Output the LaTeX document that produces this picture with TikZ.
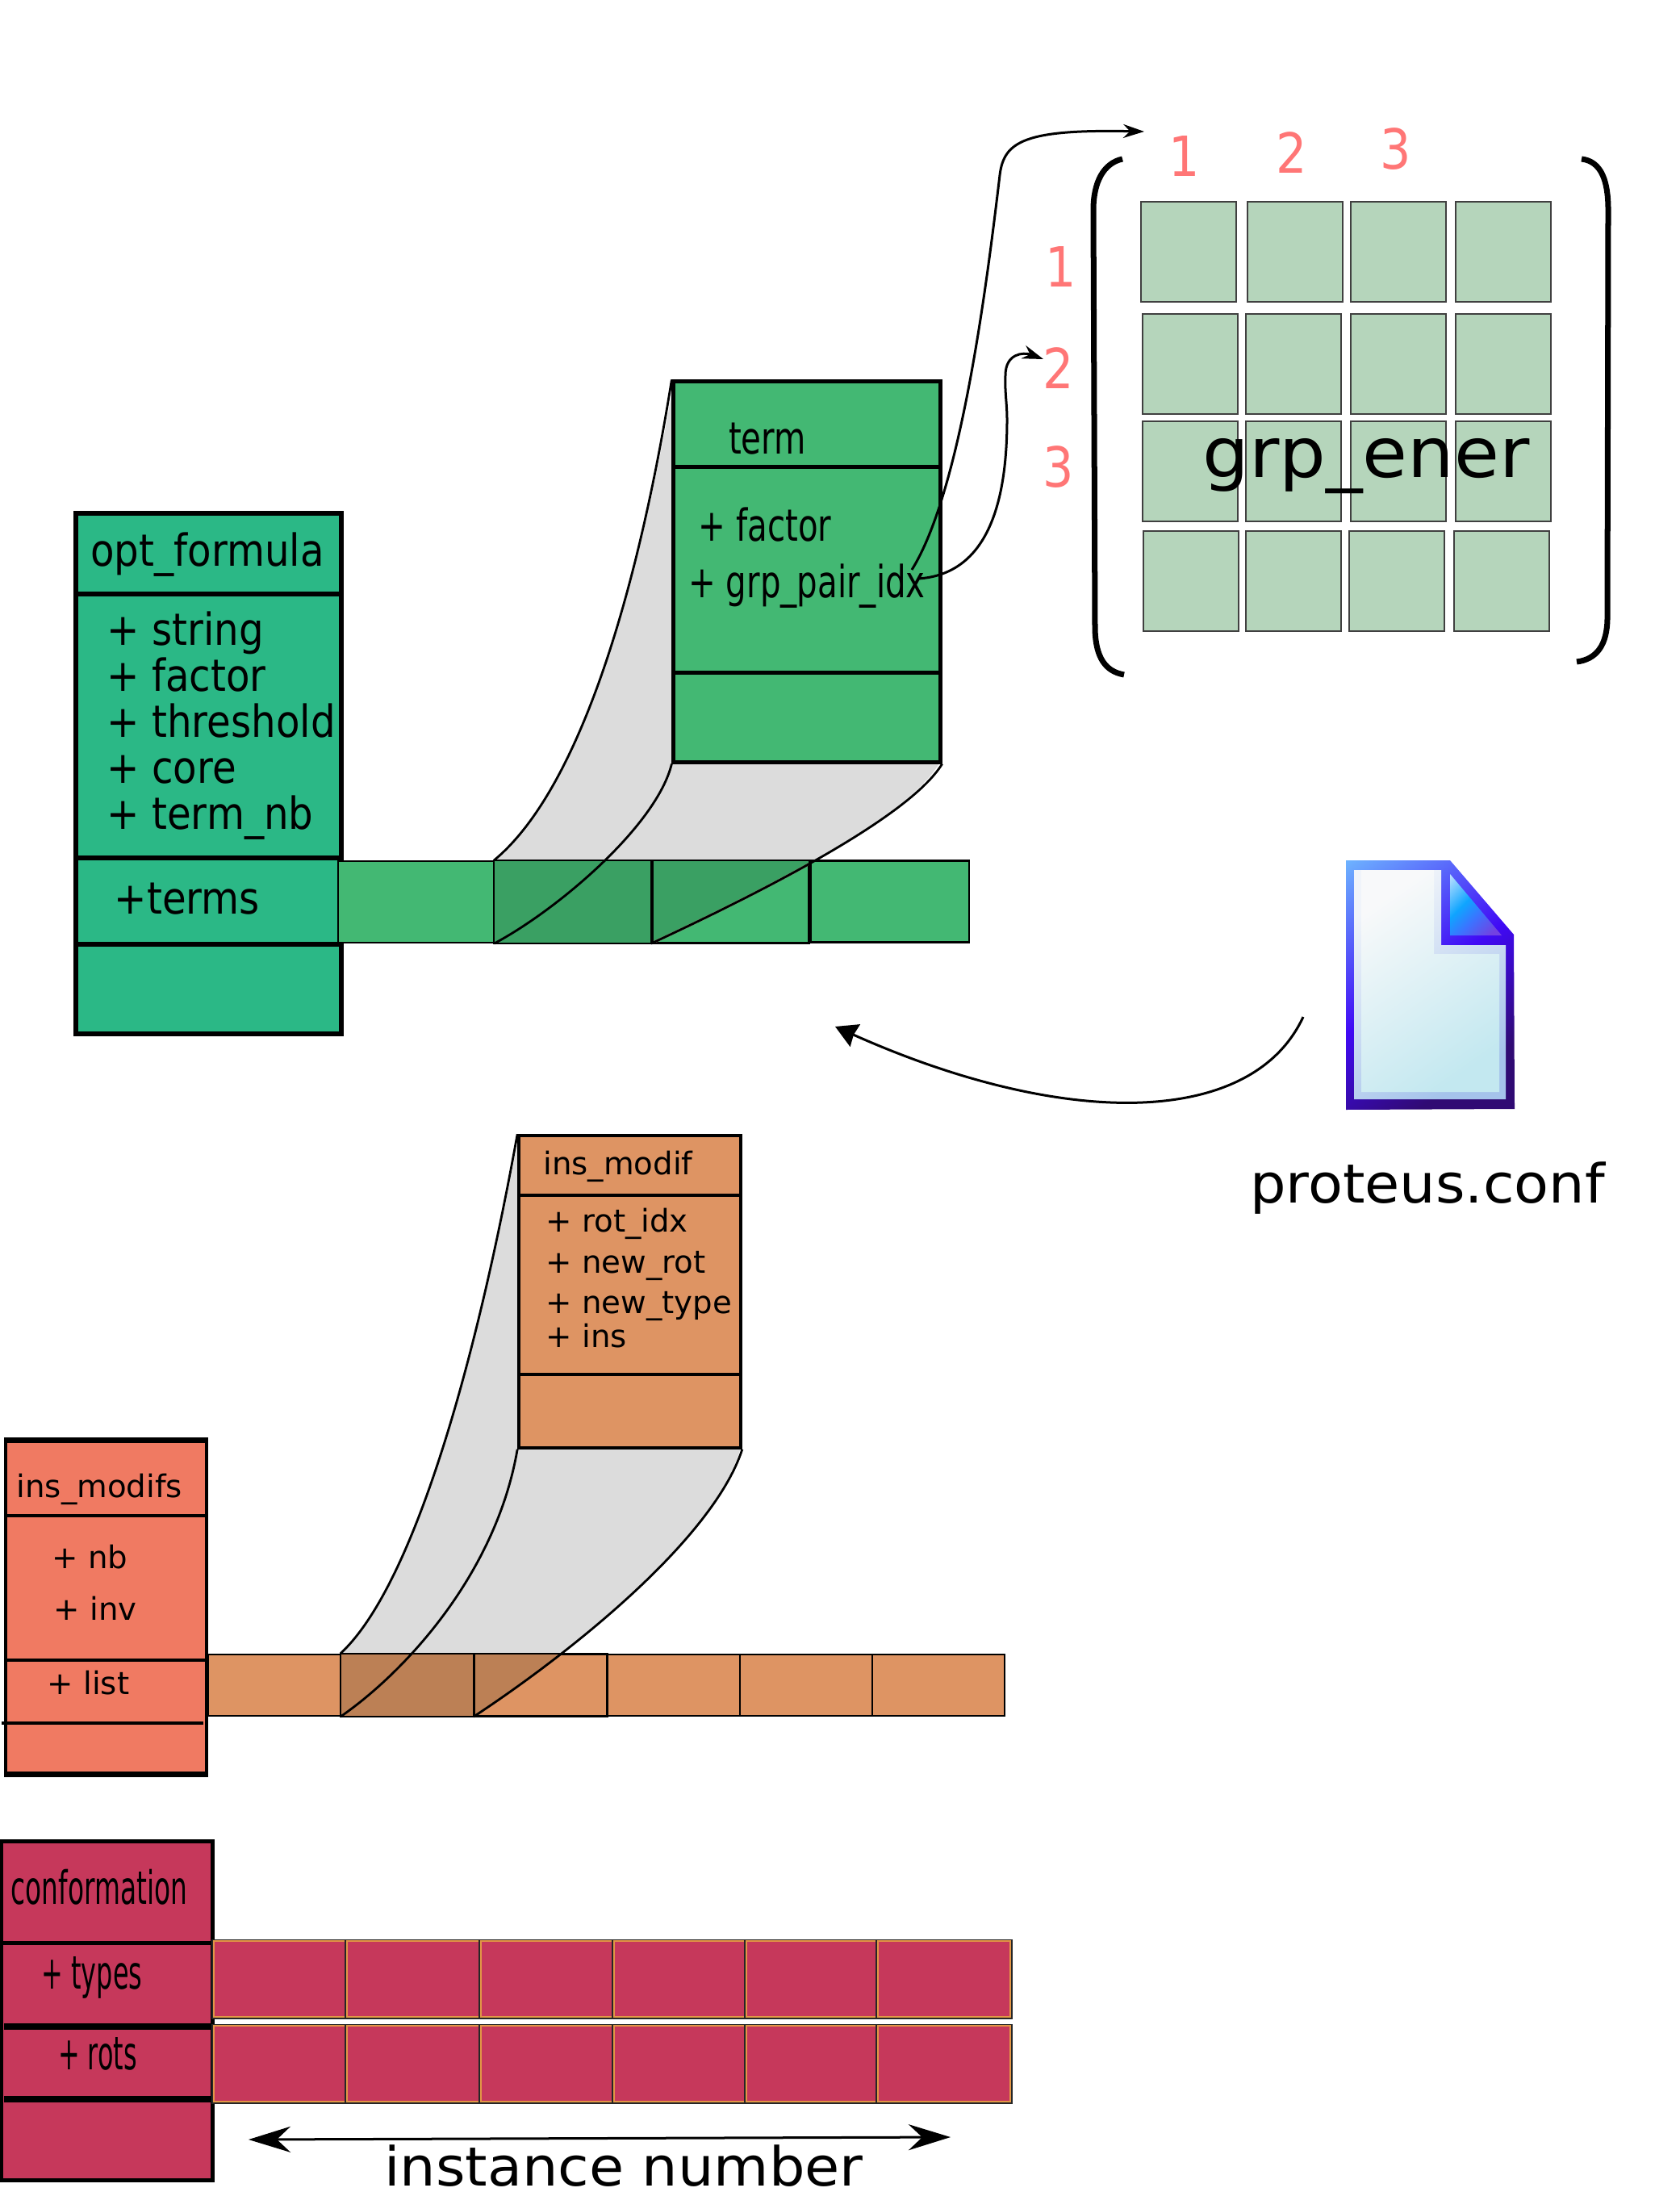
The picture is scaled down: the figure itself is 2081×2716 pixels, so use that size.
\documentclass[tikz,border=0pt]{standalone}
\usepackage{fontspec}
\setmainfont{DejaVu Sans}
\usepackage{tikz}
\usetikzlibrary{arrows.meta,shadings}
\definecolor{optcol}{RGB}{43,184,134}
\definecolor{termcol}{RGB}{67,184,115}
\definecolor{termdark}{RGB}{58,160,99}
\definecolor{pinkedge}{RGB}{196,130,130}
\definecolor{modifcol}{RGB}{222,148,99}
\definecolor{modifdark}{RGB}{188,128,85}
\definecolor{modifscol}{RGB}{240,122,98}
\definecolor{confcol}{RGB}{198,56,91}
\definecolor{edgecol}{RGB}{226,150,70}
\definecolor{ghost}{RGB}{220,220,220}
\definecolor{gridcol}{RGB}{181,213,187}
\definecolor{digit}{RGB}{255,118,118}
\definecolor{framea}{RGB}{110,180,255}
\definecolor{frameb}{RGB}{64,10,245}
\definecolor{framec}{RGB}{48,10,115}
\definecolor{marga}{RGB}{240,244,250}
\definecolor{margb}{RGB}{165,195,235}
\definecolor{pagea}{RGB}{248,249,250}
\definecolor{pageb}{RGB}{195,232,240}
\definecolor{folda}{RGB}{190,225,255}
\definecolor{foldb}{RGB}{15,165,255}
\definecolor{foldm}{RGB}{60,115,255}
\definecolor{foldc}{RGB}{115,65,225}
\pgfdeclareverticalshading{frameshade}{100bp}{color(0bp)=(framec); color(28bp)=(framec); color(52bp)=(frameb); color(85bp)=(framea); color(100bp)=(framea)}
\pgfdeclareverticalshading{foldshade}{100bp}{color(0bp)=(foldc); color(22bp)=(foldc); color(42bp)=(foldm); color(58bp)=(foldb); color(85bp)=(folda); color(100bp)=(folda)}
\tikzset{
  sect/.style={draw, rectangle, fill=#1, line width=0.05cm, inner sep=0pt},
  cell/.style={draw, rectangle, fill=#1, line width=0.022cm, inner sep=0pt},
  redcell/.style={rectangle, fill=confcol, inner sep=0pt, minimum width=1.64cm, minimum height=0.94cm,
    preaction={draw=black!85, line width=0.05cm}, draw=edgecol, line width=0.016cm},
  gridcell/.style={draw=black!75, rectangle, fill=gridcol, line width=0.015cm, inner sep=0pt, minimum width=1.18cm, minimum height=1.24cm},
  big/.style={font=\fontsize{15.6}{16.2}\selectfont, xscale=0.88, transform shape, inner sep=0pt},
  narrow/.style={font=\fontsize{15.6}{18}\selectfont, xscale=0.735, transform shape, inner sep=0pt},
  squeezed/.style={font=\fontsize{16.2}{18}\selectfont, xscale=0.56, transform shape, inner sep=0pt},
  small/.style={font=\fontsize{11}{13}\selectfont, inner sep=0pt},
  large/.style={font=\fontsize{#1}{#1}\selectfont, inner sep=0pt, anchor=base},
  num/.style={font=\fontsize{19.5}{24}\selectfont, text=digit, xscale=0.88, transform shape, inner sep=0pt},
  edge/.style={line width=0.028cm},
  thinedge/.style={line width=0.02cm},
  link/.style={line width=0.03cm, -{Stealth[length=0.26cm, width=0.17cm]}},
}
\begin{document}
\begin{tikzpicture}[x=0.01cm, y=-0.01cm]
  \useasboundingbox (0,0) rectangle (2081,2716);

  % grey projections
  \fill[ghost] (613,1067) .. controls (728,970) and (797,693) .. (835,473) -- (1165,944)
    .. controls (1126,1014) and (936,1109) .. (808,1168) -- cycle;
  \fill[ghost] (423,2050) .. controls (520,1958) and (598,1646) .. (643,1407) -- (918,1794)
    .. controls (884,1906) and (710,2046) .. (587,2126) -- cycle;

  % opt_formula
  \node[sect=optcol, line width=0.055cm, minimum width=3.29cm, minimum height=1cm] (opthead) at (258.5,686) {};
  \node[sect=optcol, line width=0.055cm, minimum width=3.29cm, minimum height=3.27cm] (optbody) at (258.5,899.5) {};
  \node[sect=optcol, line width=0.055cm, minimum width=3.29cm, minimum height=1.07cm] (optterms) at (258.5,1116.5) {};
  \node[sect=optcol, line width=0.055cm, minimum width=3.29cm, minimum height=1.11cm] (optfoot) at (258.5,1225.5) {};
  \node[big] (optname) at (257,687) {opt\_formula};
  \node[big, align=left, anchor=west] (optattr) at (132,899) {+ string\\+ factor\\+ threshold\\+ core\\+ term\_nb};
  \node[big] (optlist) at (232,1114) {+terms};

  % term
  \node[sect=termcol, minimum width=3.3cm, minimum height=1.06cm] (termhead) at (1000,526) {};
  \node[sect=termcol, minimum width=3.3cm, minimum height=2.55cm] (termbody) at (1000,706.5) {};
  \node[sect=termcol, minimum width=3.3cm, minimum height=1.1cm] (termfoot) at (1000,889) {};
  \node[narrow] (termname) at (951,544) {term};
  \node[narrow] (termfactor) at (948,650) {+ factor};
  \node[narrow] (termidx) at (1000,726) {+ grp\_pair\_idx};

  % terms array
  \foreach \i/\xx in {1/516,2/710.5,3/905} {
    \node[cell=termcol, minimum width=1.94cm, minimum height=1.01cm] (tcell\i) at (\xx,1117.5) {};
  }
  \node[cell=termcol, minimum width=1.96cm, minimum height=1.01cm] (tcell4) at (1103,1117) {};
  \fill[termdark] (tcell2.north west) rectangle (tcell2.south east);
  \begin{scope}
    \clip (tcell3.north west) rectangle (tcell3.south east);
    \fill[termdark, draw=pinkedge, line width=0.03cm] (tcell3.south west) .. controls (936,1109) and (1126,1014) .. (termfoot.south east) -- (tcell3.north west) -- cycle;
  \end{scope}
  \draw[thinedge] (tcell2.north west) rectangle (tcell2.south east);
  \draw[thinedge] (tcell3.north west) rectangle (tcell3.south east);
  \draw[edge] (tcell2.north west) .. controls (728,970) and (797,693) .. (termhead.north west);
  \draw[edge] (termfoot.south west) .. controls (814,1022) and (693,1126) .. (tcell2.south west);
  \draw[edge] (termfoot.south east) .. controls (1126,1014) and (936,1109) .. (tcell3.south west);

  % grp_ener
  \foreach \r/\yy/\xa/\xb/\xc/\xd in {1/312/1473/1605/1733/1863,2/451/1475/1603/1733/1863,3/584/1475/1603/1733/1863,4/720/1476/1603/1731/1861} {
    \foreach \c/\xx in {1/\xa,2/\xb,3/\xc,4/\xd} {
      \node[gridcell] (g\r\c) at (\xx,\yy) {};
    }
  }
  \node[large=24.4, xscale=1.06, transform shape] (enername) at (1693,592) {grp\_ener};
  \node[num] (col1) at (1468,194) {1};
  \node[num] (col2) at (1601,189) {2};
  \node[num] (col3) at (1730,185) {3};
  \node[num] (row1) at (1315,331) {1};
  \node[num] (row2) at (1312,456) {2};
  \node[num] (row3) at (1312,579) {3};
  \draw[line width=0.07cm] (1391,197) .. controls (1368,202) and (1355,225) .. (1355,260)
    -- (1357,780) .. controls (1358,815) and (1370,832) .. (1393,836);
  \draw[line width=0.07cm] (1960,197) .. controls (1985,200) and (1993,225) .. (1993,260)
    -- (1992,765) .. controls (1992,800) and (1978,817) .. (1954,820);

  \coordinate (colstart) at (1130,706);
  \coordinate (rowstart) at (1138,717);
  \coordinate (colend) at (1418,163);
  \coordinate (rowend) at (1293,445);
  \draw[link] (colstart) .. controls (1190,610) and (1222,360) .. (1239,217)
    .. controls (1244,175) and (1270,160) .. (colend);
  \draw[link] (rowstart) .. controls (1215,712) and (1248,640) .. (1248,520)
    .. controls (1248,500) and (1245,485) .. (1246,465)
    .. controls (1246,438) and (1268,436) .. (rowend);

  % config file
  \shade[shading=frameshade, shading angle=35]
    (1668,1066) -- (1797,1066) -- (1876,1158) -- (1877,1374) -- (1668,1375) -- cycle;
  \shade[top color=marga, bottom color=margb, shading angle=35]
    (1678,1078) -- (1786,1078) -- (1786,1171) -- (1866,1171) -- (1866,1362) -- (1678,1362) -- cycle;
  \shade[top color=pagea, middle color=pagea, bottom color=pageb, shading angle=35]
    (1687,1078) -- (1777,1078) -- (1777,1182) -- (1858,1182) -- (1858,1353) -- (1687,1353) -- cycle;
  \shade[shading=foldshade, shading angle=45]
    (1797,1083) -- (1861,1159) -- (1797,1159) -- cycle;
  \node[large=19, xscale=1.05, transform shape] (confname) at (1769,1490) {proteus.conf};
  \coordinate (docout) at (1615,1260);
  \coordinate (arrayin) at (1035,1272);
  \draw[line width=0.03cm, -{Stealth[length=0.27cm, width=0.3cm, inset=0.02cm]}] (docout) .. controls (1551,1398) and (1317,1398) .. (arrayin);

  % ins_modif
  \node[sect=modifcol, line width=0.035cm, minimum width=2.75cm, minimum height=0.74cm] (modifhead) at (780.5,1444) {};
  \node[sect=modifcol, line width=0.035cm, minimum width=2.75cm, minimum height=2.22cm] (modifbody) at (780.5,1592) {};
  \node[sect=modifcol, line width=0.035cm, minimum width=2.75cm, minimum height=0.91cm] (modiffoot) at (780.5,1748.5) {};
  \node[small] (modifname) at (766,1445) {ins\_modif};
  \foreach \i/\t/\yy in {1/rot\_idx/1516,2/new\_rot/1568,3/new\_type/1618,4/ins/1655} {
    \node[small, anchor=west] (modifattr\i) at (676,\yy) {+ \t};
  }

  % modif array
  \foreach \i/\xx in {1/340,2/505,3/670,4/835,5/999,6/1163} {
    \node[cell=modifcol, minimum width=1.64cm, minimum height=0.76cm] (mcell\i) at (\xx,2088) {};
  }
  \fill[modifdark] (mcell2.north west) rectangle (mcell2.south east);
  \begin{scope}
    \clip (mcell3.north west) rectangle (mcell3.south east);
    \fill[modifdark] (mcell3.south west) .. controls (710,2046) and (884,1906) .. (modiffoot.south east) -- (mcell3.north west) -- cycle;
  \end{scope}
  \draw[thinedge] (mcell2.north west) rectangle (mcell2.south east);
  \draw[thinedge] (mcell3.north west) rectangle (mcell3.south east);
  \draw[edge] (mcell2.north west) .. controls (520,1958) and (598,1646) .. (modifhead.north west);
  \draw[edge] (modiffoot.south west) .. controls (615,1949) and (503,2071) .. (mcell2.south west);
  \draw[edge] (modiffoot.south east) .. controls (884,1906) and (710,2046) .. (mcell3.south west);

  % ins_modifs
  \node[sect=modifscol, line width=0.035cm, minimum width=2.49cm, minimum height=0.92cm] (modifshead) at (131.5,1832) {};
  \node[sect=modifscol, line width=0.035cm, minimum width=2.49cm, minimum height=1.79cm] (modifsbody) at (131.5,1967.5) {};
  \node[sect=modifscol, line width=0.035cm, minimum width=2.49cm, minimum height=1.4cm] (modifslist) at (131.5,2127) {};
  \draw[line width=0.07cm] (modifshead.north west) -- (modifshead.north east);
  \draw[line width=0.07cm] (modifslist.south west) -- (modifslist.south east);
  \draw[line width=0.035cm] (modifslist.west |- 0,2135) ++(-3,0) -- (252,2135);
  \node[small, anchor=base west] (modifsname) at (20,1855) {ins\_modifs};
  \node[small, anchor=base west] (modifsnb) at (64,1943) {+ nb};
  \node[small, anchor=base west] (modifsinv) at (66,2007) {+ inv};
  \node[small, anchor=base west] (modifsls) at (58,2099) {+ list};

  % conformation
  \node[sect=confcol, minimum width=2.61cm, minimum height=1.26cm] (confhead) at (132.5,2345) {};
  \node[sect=confcol, minimum width=2.61cm, minimum height=2.93cm] (confbody) at (132.5,2554.5) {};
  \draw[line width=0.08cm] (confbody.west |- 0,2511) ++(6,0) -- (confbody.east |- 0,2511);
  \draw[line width=0.08cm] (confbody.west |- 0,2601) ++(6,0) -- (confbody.east |- 0,2601);
  \node[squeezed, xscale=1.03] (conftitle) at (123,2338) {conformation};
  \node[squeezed] (conftypes) at (114,2450) {+ types};
  \node[squeezed] (confrots) at (121,2545) {+ rots};
  \foreach \i/\xx in {1/347,2/512,3/678,4/843,5/1007,6/1170} {
    \node[redcell] (rcella\i) at (\xx,2452) {};
    \node[redcell] (rcellb\i) at (\xx,2557) {};
  }

  % instance axis
  \coordinate (axisleft) at (308,2651);
  \coordinate (axisright) at (1178,2648);
  \draw[line width=0.03cm, {Stealth[length=0.52cm, width=0.32cm]}-{Stealth[length=0.52cm, width=0.32cm]}] (axisleft) -- (axisright);
  \node[large=19, xscale=1.05, transform shape] (axisname) at (773,2708) {instance number};
\end{tikzpicture}
\end{document}
